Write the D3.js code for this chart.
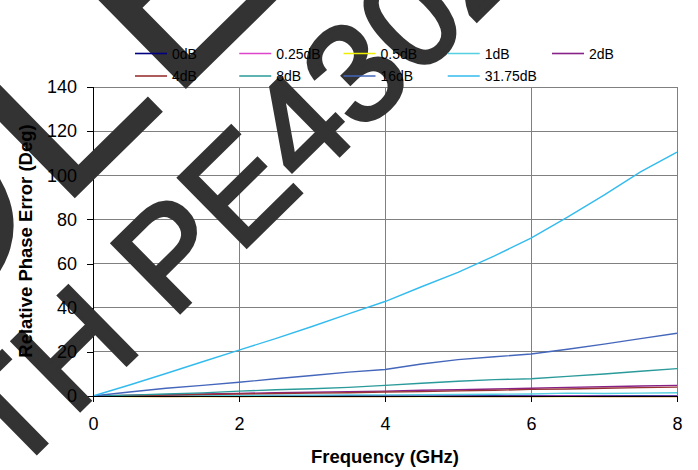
<!DOCTYPE html>
<html><head><meta charset="utf-8">
<script src="https://cdnjs.cloudflare.com/ajax/libs/d3/7.8.5/d3.min.js"></script>
<style>html,body{margin:0;padding:0;background:#fff;}svg{display:block;}</style>
</head><body>
<script>
const freqs = [0,0.5,1,1.5,2,2.5,3,3.5,4,4.5,5,5.5,6,6.5,7,7.5,8];
const seriesNames = ["0dB","0.25dB","0.5dB","1dB","2dB","4dB","8dB","16dB","31.75dB"];
const seriesColors = ["#000080","#dd44cc","#eeee00","#55d0e0","#882288","#993333","#2a9a9a","#4466bb","#33bbee"];
const s0    = [0,0,0,0,0,0,0,0,0,0,0,0,0,0,0,0,0];
const s025  = [0,-0.1,-0.2,-0.1,-0.2,-0.1,-0.2,-0.3,-0.2,-0.1,-0.2,-0.3,-0.2,-0.1,-0.2,-0.3,-0.2];
const s05   = [0,-0.2,-0.3,-0.3,-0.3,-0.3,-0.3,-0.3,-0.3,-0.3,-0.3,-0.3,-0.3,-0.3,-0.3,-0.3,-0.3];
const s1    = [0,0.1,0.2,0.3,0.3,0.4,0.4,0.5,0.5,0.6,0.7,0.8,0.9,1.3,1.1,1.3,1.5];
const s2    = [0,0.3,0.6,0.9,1.2,1.5,1.7,2.0,2.2,2.6,2.8,3.2,3.5,3.9,4.2,4.5,4.8];
const s4    = [0,0.2,0.4,0.7,0.9,1.1,1.3,1.5,1.8,2.0,2.3,2.6,3.0,3.2,3.5,3.8,4.0];
const s8    = [0,0.4,0.9,1.4,2.2,2.8,3.3,3.9,4.8,5.8,6.7,7.4,7.8,8.9,10,11.2,12.4];
const s16   = [0,1.8,3.5,4.8,6.2,7.8,9.3,10.8,12,14.5,16.5,17.8,19,21.2,23.5,26,28.4];
const s3175 = [0,5,10.2,15.5,20.8,26,31.5,37.2,42.8,49.5,56,63.5,71.5,81,91,101.5,110.5];
const seriesValues = [s0,s025,s05,s1,s2,s4,s8,s16,s3175];
const xTicks = [0,2,4,6,8];
const yTicks = [0,20,40,60,80,100,120,140];
const xTitle = "Frequency (GHz)";
const yTitle = "Relative Phase Error (Deg)";
const wmLine1 = "OBSOLETE";
const wmLine2 = "WITH PE4302";

const W = 698, H = 470;
const svg = d3.select("body").append("svg").attr("width", W).attr("height", H);
const x = d3.scaleLinear().domain([0, 8]).range([93, 677]);
const y = d3.scaleLinear().domain([0, 140]).range([396, 87]);
const font = "'Liberation Sans', Arial, sans-serif";

// gridlines
const grid = svg.append("g");
grid.selectAll("line.h").data(yTicks.filter(d => d > 0)).enter().append("line")
  .attr("x1", x(0)).attr("x2", x(8)).attr("y1", d => y(d)).attr("y2", d => y(d))
  .attr("stroke", "#808080").attr("stroke-width", 1).attr("shape-rendering", "crispEdges");
grid.selectAll("line.v").data(xTicks.filter(d => d > 0)).enter().append("line")
  .attr("x1", d => x(d)).attr("x2", d => x(d)).attr("y1", y(0)).attr("y2", y(140))
  .attr("stroke", "#808080").attr("stroke-width", 1).attr("shape-rendering", "crispEdges");

// series
const line = d3.line().x((d, i) => x(freqs[i])).y(d => y(d));
svg.append("g").selectAll("path").data(seriesValues).enter().append("path")
  .attr("d", d => line(d)).attr("fill", "none")
  .attr("stroke", (d, i) => seriesColors[i]).attr("stroke-width", 1.4);

// axis lines + ticks (no labels)
const gx = svg.append("g").attr("transform", `translate(0,${y(0)})`)
  .call(d3.axisBottom(x).tickValues(xTicks).tickSize(6).tickFormat(""));
const gy = svg.append("g").attr("transform", `translate(${x(0)},0)`)
  .call(d3.axisLeft(y).tickValues(yTicks).tickSize(6).tickFormat(""));
[gx, gy].forEach(g => {
  g.select(".domain").attr("stroke", "#000").attr("shape-rendering", "crispEdges");
  g.selectAll(".tick line").attr("stroke", "#000").attr("shape-rendering", "crispEdges");
});
gy.select(".tick:last-of-type line").attr("stroke", "#000");

// watermark
const wm = svg.append("g");
function wmRow(str, idx, lbEm, fs, px, py, angle, sw) {
  const g = wm.append("g").attr("transform", `translate(${px},${py}) rotate(${angle})`);
  const t = g.append("text").attr("font-family", font).attr("font-size", fs)
    .attr("fill", "#333").attr("stroke", "#333").attr("stroke-width", sw).text(str);
  const pos = t.node().getStartPositionOfChar(idx);
  t.attr("x", -pos.x - lbEm * fs + sw / 2).attr("y", -sw / 2);
}
wmRow(wmLine1, 4, 0.073, 280, 73, 200, -44.5, 0);
wmRow(wmLine2, 3, 0.08, 140, 80, 413, -44.5, 4);

// axis labels (on top)
svg.append("g").attr("transform", `translate(0,${y(0)})`)
  .call(d3.axisBottom(x).tickValues(xTicks).tickSize(0).tickPadding(21).tickFormat(d3.format("d")))
  .call(g => g.select(".domain").remove())
  .selectAll("text").attr("font-family", font).attr("font-size", 18).attr("fill", "#000");
svg.append("g").attr("transform", `translate(${x(0)},0)`)
  .call(d3.axisLeft(y).tickValues(yTicks).tickSize(0).tickPadding(16).tickFormat(d3.format("d")))
  .call(g => g.select(".domain").remove())
  .selectAll("text").attr("font-family", font).attr("font-size", 18).attr("fill", "#000");

// titles
svg.append("text").attr("x", 385).attr("y", 463).attr("text-anchor", "middle")
  .attr("font-family", font).attr("font-size", 18.5).attr("font-weight", "bold").text(xTitle);
svg.append("text").attr("transform", "translate(32,241) rotate(-90)").attr("text-anchor", "middle")
  .attr("font-family", font).attr("font-size", 18.5).attr("font-weight", "bold").text(yTitle);

// legend
const colX = d3.scaleLinear().domain([0, 4]).range([135, 552]);
const leg = svg.append("g");
seriesNames.forEach((name, i) => {
  const col = i % 5, row = Math.floor(i / 5);
  const lx = colX(col), ly = row === 0 ? 53.5 : 76;
  leg.append("line").attr("x1", lx).attr("x2", lx + 32).attr("y1", ly).attr("y2", ly)
    .attr("stroke", seriesColors[i]).attr("stroke-width", 1.6);
  leg.append("text").attr("x", lx + 37).attr("y", ly + 5).attr("font-family", font)
    .attr("font-size", 14).attr("fill", "#000").text(name);
});
</script>
</body></html>
